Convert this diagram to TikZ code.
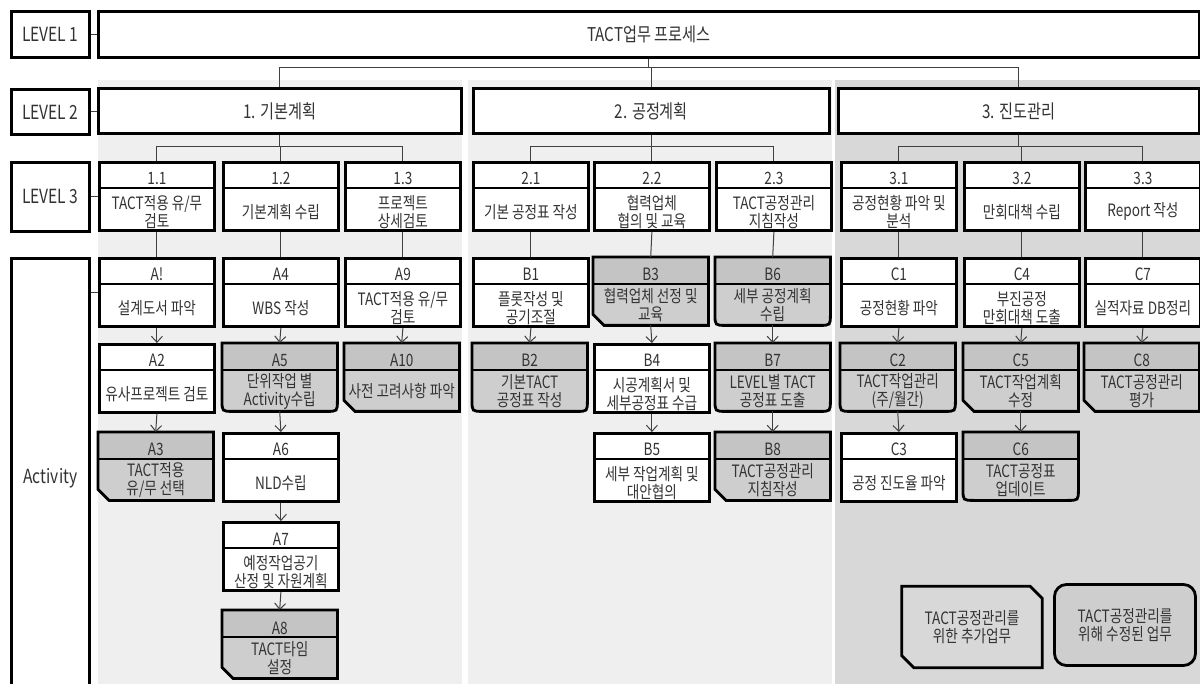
\documentclass[tikz,border=0pt]{standalone}
\usepackage{fontspec}
\newfontfamily\kr{Noto Sans CJK KR}[FakeStretch=0.8]
\usetikzlibrary{arrows.meta}
\definecolor{lightbg}{HTML}{EFEFEF}
\definecolor{darkbg}{HTML}{D8D8D8}
\definecolor{taskgray}{HTML}{CECECE}
\definecolor{headgray}{HTML}{C4C4C4}
\definecolor{ink}{HTML}{333333}

\begin{document}
\begin{tikzpicture}[
    x=1pt, y=-1pt,
    font=\kr\fontsize{17}{18}\selectfont,
    text=ink,
    >={Straight Barb[length=6pt,width=11pt]},
    frame/.style={draw=black, line width=2.8pt},
    link/.style={draw=black!75, line width=1pt},
    lvlbox/.style={frame, fill=white, anchor=north west, inner sep=0pt,
      font=\kr\fontsize{19}{20}\selectfont},
    tagbox/.style={lvlbox, font=\kr\fontsize{19.5}{20}\selectfont},
    slot/.style={anchor=north west, inner sep=0pt,
      minimum width=115pt, minimum height=68pt},
    headtext/.style={anchor=base, inner sep=0pt},
    bodytext/.style={align=center, inner sep=0pt}
  ]
  \useasboundingbox (0,0) rectangle (1200,684);

  % column backgrounds
  \fill[lightbg] (98,80) rectangle (462,684);
  \fill[lightbg] (468,80) rectangle (832,684);
  \fill[darkbg] (835,80) rectangle (1200,684);

  % level labels
  \node[tagbox, minimum width=78pt, minimum height=46pt] (lv1) at (10,10) {LEVEL 1};
  \node[tagbox, minimum width=78pt, minimum height=45pt] (lv2) at (10,88) {LEVEL 2};
  \node[tagbox, minimum width=78pt, minimum height=69pt] (lv3) at (10,161) {LEVEL 3};
  \node[tagbox, minimum width=78pt, minimum height=440pt] (act) at (10,257) {Activity};

  % level 1 and 2
  \node[lvlbox, minimum width=1101pt, minimum height=46pt] (top) at (97,10) {TACT업무 프로세스};
  \node[lvlbox, minimum width=363pt, minimum height=45pt] (P1) at (97,87) {1. 기본계획};
  \node[lvlbox, minimum width=356pt, minimum height=45pt] (P2) at (472,87) {2. 공정계획};
  \node[lvlbox, minimum width=361pt, minimum height=45pt] (P3) at (837,87) {3. 진도관리};

  \coordinate (bus1) at (0,68);
  \coordinate (bus2) at (0,147);
  \draw[link] (top.south) -- (top.south |- bus1);
  \draw[link] (P1.north) -- (P1.north |- bus1) -- (P3.north |- bus1) -- (P3.north);
  \draw[link] (P2.north) -- (P2.north |- bus1);

  % plain boxes
  \foreach \n/\x/\y/\hd/\txt in {
      L11/98/161/1.1/{TACT적용 유/무\\검토},
      L12/222/161/1.2/기본계획 수립,
      L13/344/161/1.3/{프로젝트\\상세검토},
      L21/472/161/2.1/기본 공정표 작성,
      L22/593/161/2.2/{협력업체\\협의 및 교육},
      L23/715/161/2.3/{TACT공정관리\\지침작성},
      L31/840/161/3.1/{공정현황 파악 및\\분석},
      L32/963/161/3.2/만회대책 수립,
      L33/1084/161/3.3/Report 작성,
      A1/98/257/A!/설계도서 파악,
      A2/98/343/A2/유사프로젝트 검토,
      A4/222/257/A4/WBS 작성,
      A6/222/432/A6/NLD수립,
      A7/222/521/A7/{예정작업공기\\산정 및 자원계획},
      A9/344/257/A9/{TACT적용 유/무\\검토},
      B1/472/257/B1/{플롯작성 및\\공기조절},
      B4/593/343/B4/{시공계획서 및\\세부공정표 수급},
      B5/593/432/B5/{세부 작업계획 및\\대안협의},
      C1/840/257/C1/공정현황 파악,
      C3/840/432/C3/공정 진도율 파악,
      C4/963/257/C4/{부진공정\\만회대책 도출},
      C7/1084/257/C7/실적자료 DB정리}
  {
    \node[slot, frame, fill=white] (\n) at (\x,\y) {};
    \draw[frame] ([yshift=-27pt]\n.north west) -- ([yshift=-27pt]\n.north east);
    \node[headtext] at ([yshift=-24pt]\n.north) {\hd};
    \node[bodytext] at ([yshift=20pt]\n.south) {\txt};
  }

  % added tasks (cut corner)
  \foreach \n/\x/\y/\hd/\txt in {
      A3/98/432/A3/{TACT적용\\유/무 선택},
      A8/222/610/A8/{TACT타임\\설정},
      A10/344/343/A10/사전 고려사항 파악,
      B3/593/257/B3/{협력업체 선정 및\\교육},
      B8/715/432/B8/{TACT공정관리\\지침작성},
      C5/963/343/C5/{TACT작업계획\\수정},
      C8/1084/343/C8/{TACT공정관리\\평가}}
  {
    \node[slot] (\n) at (\x,\y) {};
    \fill[taskgray] (\n.north west) -- (\n.north east) -- (\n.south east)
      -- ([xshift=11pt]\n.south west) -- ([yshift=11pt]\n.south west) -- cycle;
    \fill[headgray] (\n.north west) rectangle ([yshift=-27pt]\n.north east);
    \draw[frame] (\n.north west) -- (\n.north east) -- (\n.south east)
      -- ([xshift=11pt]\n.south west) -- ([yshift=11pt]\n.south west) -- cycle;
    \draw[frame] ([yshift=-27pt]\n.north west) -- ([yshift=-27pt]\n.north east);
    \node[headtext] at ([yshift=-24pt]\n.north) {\hd};
    \node[bodytext] at ([yshift=20pt]\n.south) {\txt};
  }

  % revised tasks (round bottom)
  \foreach \n/\x/\y/\hd/\txt in {
      A5/222/343/A5/{단위작업 별\\Activity수립},
      B2/472/343/B2/{기본TACT\\공정표 작성},
      B6/715/257/B6/{세부 공정계획\\수립},
      B7/715/343/B7/{LEVEL별 TACT\\공정표 도출},
      C2/840/343/C2/{TACT작업관리\\(주/월간)},
      C6/963/432/C6/{TACT공정표\\업데이트}}
  {
    \node[slot] (\n) at (\x,\y) {};
    \fill[taskgray] (\n.north west) -- (\n.north east) -- ([yshift=11pt]\n.south east)
      .. controls (\n.south east) .. ([xshift=-11pt]\n.south east)
      -- ([xshift=11pt]\n.south west)
      .. controls (\n.south west) .. ([yshift=11pt]\n.south west) -- cycle;
    \fill[headgray] (\n.north west) rectangle ([yshift=-27pt]\n.north east);
    \draw[frame] (\n.north west) -- (\n.north east) -- ([yshift=11pt]\n.south east)
      .. controls (\n.south east) .. ([xshift=-11pt]\n.south east)
      -- ([xshift=11pt]\n.south west)
      .. controls (\n.south west) .. ([yshift=11pt]\n.south west) -- cycle;
    \draw[frame] ([yshift=-27pt]\n.north west) -- ([yshift=-27pt]\n.north east);
    \node[headtext] at ([yshift=-24pt]\n.north) {\hd};
    \node[bodytext] at ([yshift=20pt]\n.south) {\txt};
  }

  % level 2 -> level 3
  \foreach \p/\a/\b/\c in {P1/L11/L12/L13, P2/L21/L22/L23, P3/L31/L32/L33} {
    \draw[link] (\p.south) -- (\p.south |- bus2);
    \draw[link] (\a.north) -- (\a.north |- bus2) -- (\c.north |- bus2) -- (\c.north);
    \draw[link] (\b.north) -- (\b.north |- bus2);
  }

  % level 3 -> first activity
  \foreach \a/\b in {L11/A1, L12/A4, L13/A9, L21/B1, L22/B3, L23/B6, L31/C1, L32/C4, L33/C7}
    \draw[link] (\a.south) -- (\b.north);

  % activity flow
  \foreach \a/\b in {A1/A2, A2/A3, A4/A5, A5/A6, A6/A7, A7/A8, A9/A10,
                     B1/B2, B3/B4, B4/B5, B6/B7, B7/B8,
                     C1/C2, C2/C3, C4/C5, C5/C6, C7/C8}
    \draw[link, ->] (\a.south) -- (\b.north);

  % level labels to boxes
  \draw[link] (lv1.east) -- (top.west);
  \draw[link] (lv2.east) -- (lv2.east -| P1.west);
  \draw[link] (lv3.east) -- (lv3.east -| L11.west);
  \draw[link] (act.east |- A1.west) -- (A1.west);

  % legend
  \node[bodytext, minimum width=140pt, minimum height=81pt] (key1) at (972,627) {TACT공정관리를\\위한 추가업무};
  \draw[frame] (key1.north west) -- ([xshift=-12pt]key1.north east)
    -- ([yshift=-12pt]key1.north east) -- (key1.south east)
    -- ([xshift=12pt]key1.south west) -- ([yshift=12pt]key1.south west) -- cycle;
  \node[bodytext, frame, fill=taskgray, rounded corners=12pt,
    minimum width=141pt, minimum height=81pt] (key2) at (1125,625) {TACT공정관리를\\위해 수정된 업무};
\end{tikzpicture}
\end{document}
